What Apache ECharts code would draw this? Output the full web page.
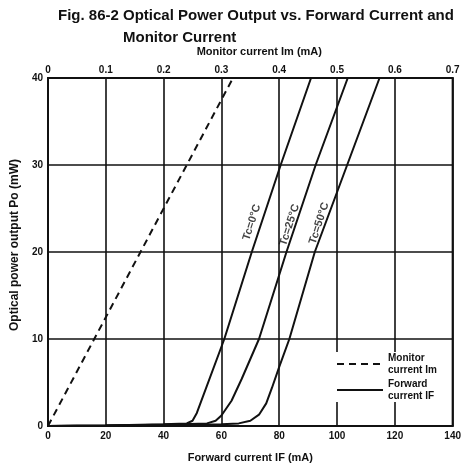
<!DOCTYPE html>
<html lang="en">
<head>
    <meta charset="UTF-8">
    <title>Optical Power Output vs. Forward Current</title>
    <style>
        body { margin: 0; background: #fff; }
        #chart { width: 464px; height: 468px; }
    </style>
</head>
<body>
    <div id="chart"></div>
    <script src="https://cdn.jsdelivr.net/npm/echarts@6/dist/echarts.min.js"></script>
    <script>
        // 数据
        var forwardTicks = [0, 20, 40, 60, 80, 100, 120, 140];
        var monitorTicks = [0, 0.1, 0.2, 0.3, 0.4, 0.5, 0.6, 0.7];
        var powerTicks = [0, 10, 20, 30, 40];

        // monitor current Im (mA) -> Po (mW)
        var monitorCurve = [[0, 0], [0.32, 40]];

        // forward current IF (mA) -> Po (mW)
        var tc0 = [[0, 0], [20, 0.05], [40, 0.2], [48, 0.3], [50, 0.6], [51.5, 1.5], [61, 10], [70.5, 20], [80.5, 30], [91, 40]];
        var tc25 = [[0, 0], [20, 0.05], [40, 0.15], [55, 0.3], [58, 0.6], [60, 1.2], [63.5, 2.9], [67, 5.4], [73, 10], [82.5, 20], [92.6, 30], [103.7, 40]];
        var tc50 = [[0, 0], [20, 0.05], [40, 0.15], [60, 0.2], [66, 0.3], [70, 0.6], [73, 1.3], [75.5, 2.6], [77.5, 4.4], [80, 6.8], [83.5, 10], [92.3, 20], [103.5, 30], [114.7, 40]];

        var tcLabels = [
            { name: 'Tc=0°C', value: [70.5, 23.4] },
            { name: 'Tc=25°C', value: [83.6, 23.1] },
            { name: 'Tc=50°C', value: [93.8, 23.3] }
        ];

        var ink = '#111';
        var font = 'Liberation Sans';

        var myChart = echarts.init(document.getElementById('chart'));

        function solid(data) {
            return {
                name: 'Forward current IF',
                type: 'line',
                xAxisIndex: 0,
                symbol: 'none',
                lineStyle: { color: ink, width: 2 },
                itemStyle: { color: ink },
                data: data
            };
        }

        var option = {
            animation: false,
            backgroundColor: '#fff',
            textStyle: { fontFamily: font },
            title: [{
                text: 'Fig. 86-2 Optical Power Output vs. Forward Current and',
                left: 53,
                top: 3,
                textStyle: { fontSize: 15, fontWeight: 'bold', color: ink, fontFamily: font }
            }, {
                text: 'Monitor Current',
                left: 118,
                top: 25,
                textStyle: { fontSize: 15, fontWeight: 'bold', color: ink, fontFamily: font }
            }],
            legend: {
                orient: 'vertical',
                left: 336,
                top: 352,
                itemWidth: 46,
                itemHeight: 10,
                itemGap: 2,
                padding: [0, 4, 0, 0],
                backgroundColor: '#fff',
                itemStyle: { opacity: 0 },
                data: ['Monitor current Im', 'Forward current IF'],
                formatter: function (name) {
                    return name === 'Monitor current Im' ? 'Monitor\ncurrent Im' : 'Forward\ncurrent IF';
                },
                textStyle: { fontSize: 10, fontWeight: 'bold', color: ink, lineHeight: 12 }
            },
            grid: {
                left: 48,
                right: 11,
                top: 78,
                bottom: 38,
                show: true,
                borderColor: ink,
                borderWidth: 2
            },
            xAxis: [{
                type: 'value',
                position: 'bottom',
                min: forwardTicks[0],
                max: forwardTicks[forwardTicks.length - 1],
                interval: 20,
                name: 'Forward current IF (mA)',
                nameLocation: 'middle',
                nameGap: 26,
                nameTextStyle: { fontSize: 11, fontWeight: 'bold', color: ink },
                axisLine: { lineStyle: { color: ink, width: 2 } },
                axisTick: { show: false },
                axisLabel: { fontSize: 10, fontWeight: 'bold', color: ink, margin: 5 },
                splitLine: { lineStyle: { color: ink, width: 1.6 } }
            }, {
                type: 'value',
                position: 'top',
                min: monitorTicks[0],
                max: monitorTicks[monitorTicks.length - 1],
                interval: 0.1,
                name: 'Monitor current Im (mA)',
                nameLocation: 'middle',
                nameGap: 21,
                nameTextStyle: { fontSize: 11, fontWeight: 'bold', color: ink, padding: [0, 0, 0, 18] },
                axisLine: { lineStyle: { color: ink, width: 2 } },
                axisTick: { show: false },
                axisLabel: { fontSize: 10, fontWeight: 'bold', color: ink, margin: 3 },
                splitLine: { show: false }
            }],
            yAxis: {
                type: 'value',
                min: powerTicks[0],
                max: powerTicks[powerTicks.length - 1],
                interval: 10,
                name: 'Optical power output Po (mW)',
                nameLocation: 'middle',
                nameGap: 21,
                nameTextStyle: { fontSize: 12, fontWeight: 'bold', color: ink, padding: [0, 0, 0, 14] },
                axisLine: { lineStyle: { color: ink, width: 2 } },
                axisTick: { show: false },
                axisLabel: { fontSize: 10, fontWeight: 'bold', color: ink, margin: 5 },
                splitLine: { lineStyle: { color: ink, width: 1.6 } }
            },
            series: [
                {
                    name: 'Monitor current Im',
                    type: 'line',
                    xAxisIndex: 1,
                    symbol: 'none',
                    lineStyle: { color: ink, width: 2, type: [7, 5] },
                    itemStyle: { color: ink },
                    data: monitorCurve
                },
                solid(tc0),
                solid(tc25),
                solid(tc50),
                {
                    name: 'Tc',
                    type: 'scatter',
                    xAxisIndex: 0,
                    symbolSize: 0,
                    label: {
                        show: true,
                        position: 'inside',
                        rotate: 72,
                        formatter: '{b}',
                        fontSize: 11,
                        fontWeight: 'bold',
                        color: ink
                    },
                    data: tcLabels
                }
            ]
        };

        myChart.setOption(option);
    </script>
</body>
</html>
